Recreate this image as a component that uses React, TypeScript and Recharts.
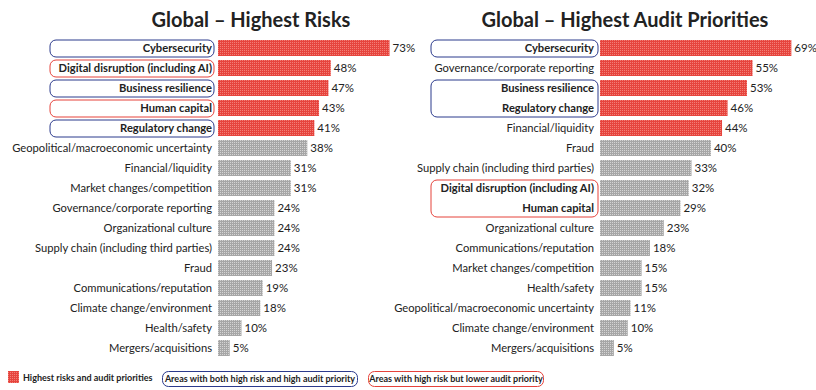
import { Bar, BarChart, Cell, LabelList, ReferenceArea, XAxis, YAxis } from 'recharts';

const riskNames = [
  'Cybersecurity',
  'Digital disruption (including AI)',
  'Business resilience',
  'Human capital',
  'Regulatory change',
  'Geopolitical/macroeconomic uncertainty',
  'Financial/liquidity',
  'Market changes/competition',
  'Governance/corporate reporting',
  'Organizational culture',
  'Supply chain (including third parties)',
  'Fraud',
  'Communications/reputation',
  'Climate change/environment',
  'Health/safety',
  'Mergers/acquisitions',
];
const riskValues = [73, 48, 47, 43, 41, 38, 31, 31, 24, 24, 24, 23, 19, 18, 10, 5];

const auditNames = [
  'Cybersecurity',
  'Governance/corporate reporting',
  'Business resilience',
  'Regulatory change',
  'Financial/liquidity',
  'Fraud',
  'Supply chain (including third parties)',
  'Digital disruption (including AI)',
  'Human capital',
  'Organizational culture',
  'Communications/reputation',
  'Market changes/competition',
  'Health/safety',
  'Geopolitical/macroeconomic uncertainty',
  'Climate change/environment',
  'Mergers/acquisitions',
];
const auditValues = [69, 55, 53, 46, 44, 40, 33, 32, 29, 23, 18, 15, 15, 11, 10, 5];

const TOP_N = 5;

// boxed labels: [first, last, color]
const BLUE = '#2b3a8c';
const RED = '#e5423b';
const riskBoxes: [string, string, string][] = [
  ['Cybersecurity', 'Cybersecurity', BLUE],
  ['Digital disruption (including AI)', 'Digital disruption (including AI)', RED],
  ['Business resilience', 'Business resilience', BLUE],
  ['Human capital', 'Human capital', RED],
  ['Regulatory change', 'Regulatory change', BLUE],
];
const auditBoxes: [string, string, string][] = [
  ['Cybersecurity', 'Cybersecurity', BLUE],
  ['Business resilience', 'Regulatory change', BLUE],
  ['Digital disruption (including AI)', 'Human capital', RED],
];

const FONT = 'Lato, "Open Sans", sans-serif';
const TEXT = '#222';

function Patterns({ id }: { id: string }) {
  return (
    <defs>
      <pattern id={`${id}-red`} width={2} height={2} patternUnits="userSpaceOnUse">
        <rect width={2} height={2} fill="#e6443d" />
        <rect width={1} height={1} fill="#f27e76" />
      </pattern>
      <pattern id={`${id}-gray`} width={2} height={2} patternUnits="userSpaceOnUse">
        <rect width={2} height={2} fill="#a6a6a6" />
        <rect width={1} height={1} fill="#d4d4d4" />
      </pattern>
    </defs>
  );
}

interface PanelProps {
  id: string;
  names: string[];
  values: number[];
  boxes: [string, string, string][];
  max: number;
  left: number;
  width: number;
  yWidth: number;
  right: number;
  boxFrom: number; // px left of plot
  boxTo: number;
}

function Panel({ id, names, values, boxes, max, left, width, yWidth, right, boxFrom, boxTo }: PanelProps) {
  const data = names.map((name, i) => ({ name, value: values[i] }));
  const bold = new Set<string>();
  boxes.forEach(([a, b]) => {
    const i0 = names.indexOf(a);
    const i1 = names.indexOf(b);
    for (let i = i0; i <= i1; i++) bold.add(names[i]);
  });

  const renderTick = (p: any) => (
    <text
      x={p.x}
      y={p.y}
      dy={4}
      textAnchor="end"
      fontSize={11.2}
      fontFamily={FONT}
      fontWeight={bold.has(p.payload.value) ? 700 : 400}
      fill={TEXT}
    >
      {p.payload.value}
    </text>
  );

  return (
    <div style={{ position: 'absolute', left, top: 0 }}>
      <BarChart
        width={width}
        height={360}
        data={data}
        layout="vertical"
        margin={{ top: 38, right, bottom: 2, left: 0 }}
      >
        <Patterns id={id} />
        <XAxis type="number" domain={[0, max]} hide />
        <YAxis
          type="category"
          dataKey="name"
          width={yWidth}
          axisLine={false}
          tickLine={false}
          tickSize={0}
          tickMargin={6}
          interval={0}
          tick={renderTick}
        />
        {boxes.map(([a, b, color]) => (
          <ReferenceArea
            key={a}
            y1={a}
            y2={b}
            ifOverflow="visible"
            shape={(s: any) => (
              <rect
                x={s.x - boxFrom}
                y={s.y + 2}
                width={boxFrom - boxTo}
                height={s.height - 3}
                rx={6}
                fill="none"
                stroke={color}
                strokeWidth={1}
              />
            )}
          />
        ))}
        <Bar dataKey="value" barSize={16} isAnimationActive={false}>
          {data.map((d, i) => (
            <Cell key={d.name} fill={i < TOP_N ? `url(#${id}-red)` : `url(#${id}-gray)`} />
          ))}
          <LabelList
            dataKey="value"
            position="right"
            offset={3}
            formatter={(v: any) => `${v}%`}
            fontSize={11.5}
            fontFamily={FONT}
            fill={TEXT}
          />
        </Bar>
      </BarChart>
    </div>
  );
}

export default function App() {
  return (
    <div style={{ position: 'absolute', left: 0, top: 0, width: 816, height: 390, background: '#fff', fontFamily: FONT }}>
      <Panel
        id="risk"
        names={riskNames}
        values={riskValues}
        boxes={riskBoxes}
        max={80}
        left={0}
        width={430}
        yWidth={218}
        right={24}
        boxFrom={168}
        boxTo={4}
      />
      <Panel
        id="audit"
        names={auditNames}
        values={auditValues}
        boxes={auditBoxes}
        max={75}
        left={380}
        width={436}
        yWidth={220}
        right={8}
        boxFrom={169}
        boxTo={2}
      />
      <svg width={816} height={390} style={{ position: 'absolute', left: 0, top: 0, pointerEvents: 'none' }}>
        <Patterns id="legend" />
        <text x={251} y={27} textAnchor="middle" fontSize={20} fontWeight={700} fontFamily={FONT} fill={TEXT}>
          Global – Highest Risks
        </text>
        <text x={625} y={27} textAnchor="middle" fontSize={20} fontWeight={700} fontFamily={FONT} fill={TEXT}>
          Global – Highest Audit Priorities
        </text>
        <rect x={8} y={371} width={11} height={12} fill="url(#legend-red)" />
        <text x={23} y={381} fontSize={9} fontWeight={700} fontFamily={FONT} fill={TEXT}>
          Highest risks and audit priorities
        </text>
        <rect x={162.5} y={371.5} width={195} height={15} rx={6} fill="none" stroke={BLUE} />
        <text x={260} y={382} textAnchor="middle" fontSize={9} fontWeight={700} fontFamily={FONT} fill={TEXT}>
          Areas with both high risk and high audit priority
        </text>
        <rect x={368.5} y={371.5} width={175} height={15} rx={6} fill="none" stroke={RED} />
        <text x={456} y={382} textAnchor="middle" fontSize={9} fontWeight={700} fontFamily={FONT} fill={TEXT}>
          Areas with high risk but lower audit priority
        </text>
      </svg>
    </div>
  );
}
